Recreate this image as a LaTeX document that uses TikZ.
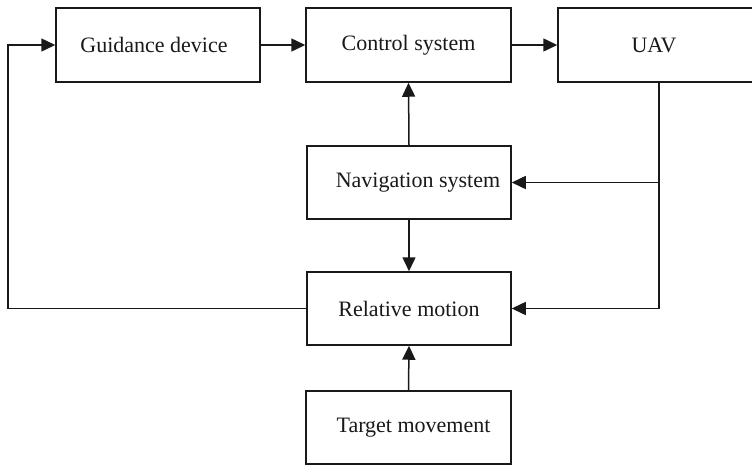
\documentclass[tikz,border=0pt]{standalone}
\usepackage{fontspec}
\setmainfont{Liberation Serif}
\usetikzlibrary{arrows.meta}
\begin{document}
\begin{tikzpicture}[x=1pt,y=-1pt,
  blockbox/.style={draw=black!90, line width=1.5pt, minimum height=74pt, inner sep=0pt,
    font=\fontsize{22}{24}\selectfont, text=black!90},
  flow/.style={draw=black!90, line width=1.5pt, -{Triangle[length=14pt,width=13pt]}}]
  \useasboundingbox (0,0) rectangle (752,464);
  \fill[white] (0,0) rectangle (752,464);
  \clip (0,0) rectangle (752,464);

  % blocks
  \node[blockbox, minimum width=204pt] (guid) at (158,45) {\hspace{-8pt}Guidance device};
  \node[blockbox, minimum width=205pt] (ctrl) at (408.5,45) {Control system};
  \node[blockbox, minimum width=202pt] (uav)  at (659,45) {\hspace{-10pt}UAV};
  \node[blockbox, minimum width=204pt, minimum height=73pt] (nav) at (409,182.5) {\hspace{18pt}Navigation system};
  \node[blockbox, minimum width=204pt, minimum height=73pt] (rel) at (409,308.5) {Relative motion};
  \node[blockbox, minimum width=205pt, minimum height=73pt] (tgt) at (408.5,427.5) {\hspace{10pt}Target movement};

  % feedback corner on the left
  \coordinate (lc) at (8,45);

  % connectors
  \draw[flow] (rel.west) -| (lc) -- (guid.west);
  \draw[flow] (guid.east) -- (ctrl.west);
  \draw[flow] (ctrl.east) -- (uav.west);
  \draw[flow] (nav.north) -- (ctrl.south);
  \draw[flow] (nav.south) -- (rel.north);
  \draw[flow] (tgt.north) -- (rel.south);
  \draw[flow] (uav.south) |- (rel.east);
  \draw[flow] (uav.south |- nav.east) -- (nav.east);
\end{tikzpicture}
\end{document}
